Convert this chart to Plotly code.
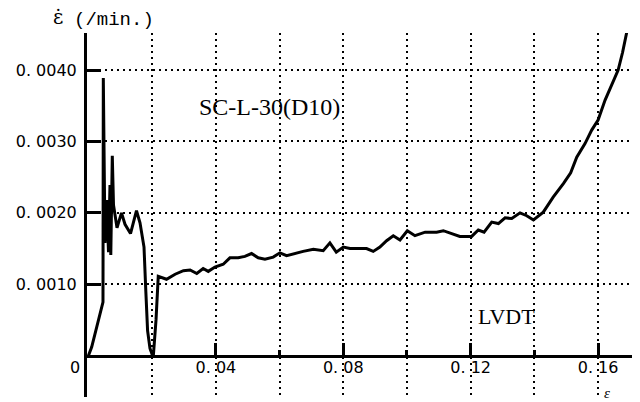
import plotly.graph_objects as go

# Strain (ε) and strain rate (/min.) measured by LVDT, specimen SC-L-30(D10)
strain = [
    0.0, 0.0010, 0.00455, 0.00465, 0.00518, 0.00571, 0.00628, 0.00675, 0.0070,
    0.00747, 0.00785, 0.00895, 0.01036, 0.01146, 0.01319, 0.01507, 0.01617,
    0.01743, 0.0180, 0.01855, 0.0193, 0.0201, 0.0204, 0.0212, 0.0219,
    0.0245, 0.0272, 0.0298, 0.0319, 0.0340, 0.0360, 0.0376, 0.0397, 0.0423,
    0.0444, 0.0470, 0.0491, 0.0512, 0.0533, 0.0554, 0.0580, 0.0601, 0.0622,
    0.0654, 0.0674, 0.0706, 0.0737, 0.0758, 0.0778, 0.0800, 0.0821, 0.0873,
    0.0894, 0.0915, 0.0936, 0.0957, 0.0978, 0.1001, 0.1025, 0.1057, 0.1093,
    0.1114, 0.1145, 0.1166, 0.1203, 0.1224, 0.1242, 0.1266, 0.1287, 0.1308,
    0.1329, 0.1355, 0.1376, 0.1397, 0.1428, 0.1459, 0.1491, 0.1514, 0.1533,
    0.1559, 0.1580, 0.1600, 0.1622, 0.1643, 0.1663, 0.1677, 0.1690,
]
rate = [
    0.0, 0.00012, 0.00075, 0.00389, 0.00158, 0.00218, 0.00145, 0.00239, 0.00141,
    0.00280, 0.00211, 0.00179, 0.00200, 0.00184, 0.00171, 0.00203, 0.00186,
    0.00152, 0.00090, 0.00035, 0.00010, 0.0, 0.00002, 0.00050, 0.00111,
    0.00107, 0.00114, 0.00119, 0.00120, 0.00115, 0.00122, 0.00118, 0.00124, 0.00128,
    0.00137, 0.00137, 0.00139, 0.00143, 0.00137, 0.00135, 0.00138, 0.00144, 0.00140,
    0.00144, 0.00146, 0.00149, 0.00147, 0.00158, 0.00145, 0.00152, 0.00150, 0.00150,
    0.00146, 0.00152, 0.00161, 0.00168, 0.00162, 0.00175, 0.00168, 0.00173, 0.00173,
    0.00175, 0.00170, 0.00167, 0.00167, 0.00176, 0.00173, 0.00187, 0.00185, 0.00193,
    0.00192, 0.00200, 0.00196, 0.00190, 0.00201, 0.00222, 0.00241, 0.00256, 0.00278,
    0.00297, 0.00316, 0.00330, 0.00358, 0.00379, 0.00400, 0.00425, 0.00453,
]

x_major_ticks = [0.04, 0.08, 0.12, 0.16]
x_major_labels = ["0. 04", "0. 08", "0. 12", "0. 16"]
x_minor_ticks = [0.02, 0.06, 0.10, 0.14]
y_ticks = [0.001, 0.002, 0.003, 0.004]
y_labels = ["0. 0010", "0. 0020", "0. 0030", "0. 0040"]

x_range = [-0.00047, 0.17065]
y_range = [-0.00058, 0.00452]

W, H = 640, 402
L, R, T, B = 87, 8, 33, 5
PW, PH = W - L - R, H - T - B


def paper_x(px):
    return (px - L) / PW


def paper_y(py):
    return 1 - (py - T) / PH


GRID_DASH = "2px,4px"
num_font = dict(family="DejaVu Sans", size=16, color="black")

fig = go.Figure()
fig.add_trace(go.Scatter(
    x=strain, y=rate, mode="lines",
    line=dict(color="black", width=3),
    hoverinfo="skip", showlegend=False,
))

# horizontal strain axis sits on the zero-rate level
zero_pos = (0 - y_range[0]) / (y_range[1] - y_range[0])

fig.update_layout(
    width=W, height=H,
    margin=dict(l=L, r=R, t=T, b=B, pad=0),
    paper_bgcolor="white", plot_bgcolor="white",
    showlegend=False,
    xaxis=dict(
        range=x_range, anchor="free", position=zero_pos,
        showline=True, linecolor="black", linewidth=3,
        zeroline=False,
        tickmode="array", tickvals=x_major_ticks, ticktext=x_major_labels,
        ticks="inside", ticklen=12, tickwidth=3, tickcolor="black",
        ticklabelstandoff=-4,
        tickfont=num_font,
        showgrid=True, gridcolor="black", gridwidth=1.5, griddash=GRID_DASH,
        minor=dict(
            tickmode="array", tickvals=x_minor_ticks,
            ticks="inside", ticklen=5, tickwidth=2.5, tickcolor="black",
            showgrid=True, gridcolor="black", gridwidth=1.5, griddash=GRID_DASH,
        ),
    ),
    yaxis=dict(
        range=y_range,
        showline=True, linecolor="black", linewidth=3,
        zeroline=False,
        tickmode="array", tickvals=y_ticks, ticktext=y_labels,
        ticks="inside", ticklen=14, tickwidth=3, tickcolor="black",
        ticklabelstandoff=4,
        tickfont=num_font,
        showgrid=True, gridcolor="black", gridwidth=1.5, griddash=GRID_DASH,
    ),
)

annotations = [
    # axis title: strain rate, epsilon with a combining dot above
    dict(text="\u03b5\u0307", x=paper_x(58), y=paper_y(17), xanchor="center", yanchor="middle",
         borderpad=0, font=dict(family="DejaVu Serif", size=20, color="black")),
    dict(text="(/min.)", x=paper_x(72), y=paper_y(20), xanchor="left", yanchor="middle",
         font=dict(family="Liberation Mono", size=19, color="black")),
    # zero label of the rate axis, set below the strain axis
    dict(text="0", x=paper_x(75), y=paper_y(367), xanchor="center", yanchor="middle",
         font=num_font),
    # strain axis symbol
    dict(text="<i>ε</i>", x=paper_x(607), y=paper_y(393), xanchor="center", yanchor="middle",
         font=dict(family="Liberation Serif", size=15, color="black")),
    dict(text="SC-L-30(D10)", x=paper_x(197), y=paper_y(107), xanchor="left", yanchor="middle",
         font=dict(family="Liberation Serif", size=24, color="black")),
    dict(text="LVDT", x=paper_x(476), y=paper_y(316), xanchor="left", yanchor="middle",
         font=dict(family="Liberation Serif", size=22, color="black")),
]
for a in annotations:
    a.update(xref="paper", yref="paper", showarrow=False)
fig.update_layout(annotations=annotations)

fig.write_html("out.html")
